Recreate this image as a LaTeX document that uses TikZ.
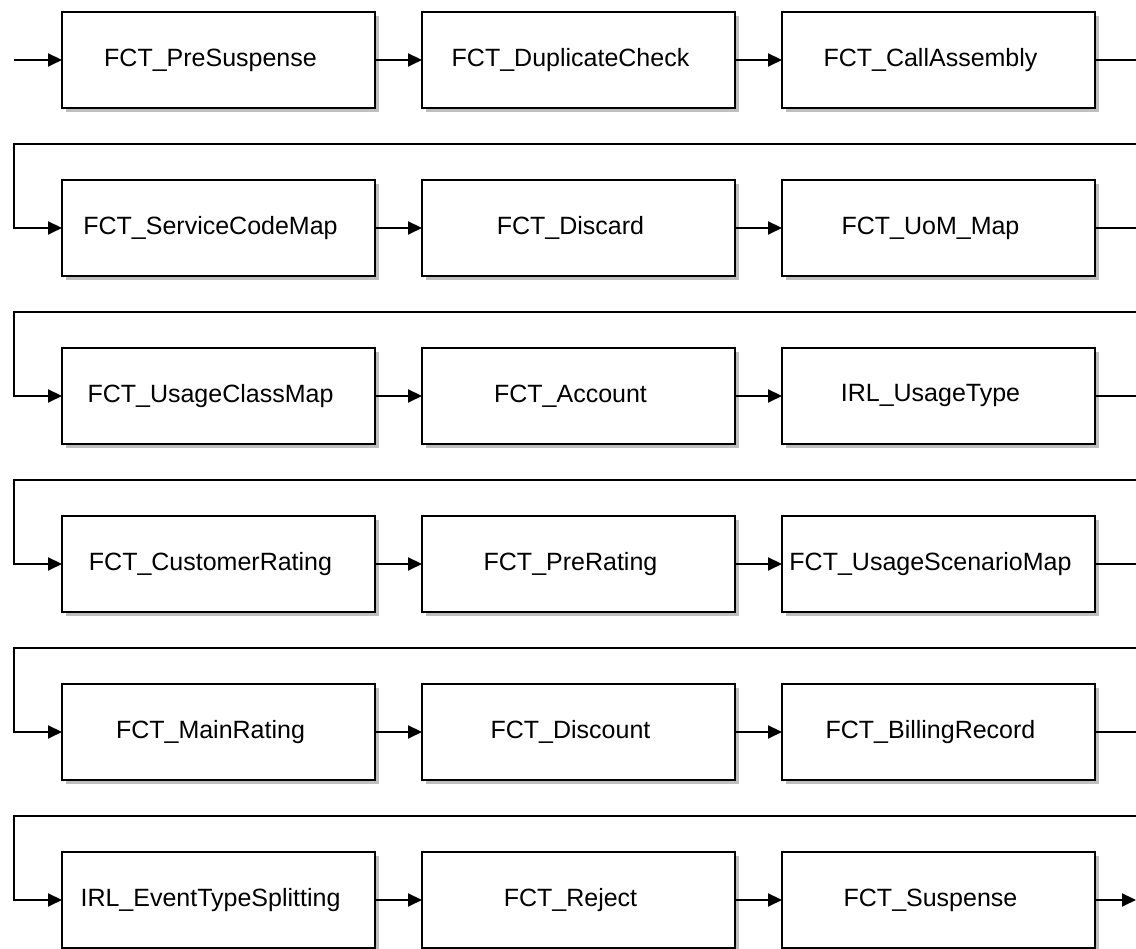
\documentclass[tikz,border=0pt]{standalone}
\usepackage{fontspec}
\setmainfont{Liberation Sans}
\usepackage{tikz}
\usetikzlibrary{positioning, arrows.meta, shadows}
\tikzset{
  stage/.style={
    draw,
    line width=2pt,
    fill=white,
    minimum width=313pt,
    minimum height=96pt,
    inner sep=0pt,
    outer sep=0pt,
    font=\fontsize{25}{30}\selectfont,
    drop shadow={shadow xshift=4pt, shadow yshift=-4pt, fill=black!25, opacity=1},
    execute at end node={\hspace{16pt}}
  },
  flow/.style={
    -{Triangle[length=14pt,width=13pt]},
    line width=2pt
  }
}

\begin{document}
\begin{tikzpicture}[x=1pt, y=1pt, node distance=72pt and 47pt]
  \path[use as bounding box] (0,0) rectangle (1136,949);
  \clip (0,0) rectangle (1136,949);

  % row 1
  \node[stage] (pre) at (218.5,889) {FCT\_PreSuspense};
  \node[stage, right=of pre] (dup) {FCT\_DuplicateCheck};
  \node[stage, right=of dup] (call) {FCT\_CallAssembly};
  % row 2
  \node[stage, below=of pre] (svc) {FCT\_ServiceCodeMap};
  \node[stage, right=of svc] (disc) {FCT\_Discard};
  \node[stage, right=of disc] (uom) {FCT\_UoM\_Map};
  % row 3
  \node[stage, below=of svc] (ucls) {FCT\_UsageClassMap};
  \node[stage, right=of ucls] (acct) {FCT\_Account};
  \node[stage, right=of acct] (utype) {IRL\_UsageType};
  % row 4
  \node[stage, below=of ucls] (cust) {FCT\_CustomerRating};
  \node[stage, right=of cust] (prer) {FCT\_PreRating};
  \node[stage, right=of prer] (uscn) {FCT\_UsageScenarioMap};
  % row 5
  \node[stage, below=of cust] (main) {FCT\_MainRating};
  \node[stage, right=of main] (dsc) {FCT\_Discount};
  \node[stage, right=of dsc] (bill) {FCT\_BillingRecord};
  % row 6
  \node[stage, below=of main] (evt) {IRL\_EventTypeSplitting};
  \node[stage, right=of evt] (rej) {FCT\_Reject};
  \node[stage, right=of rej] (susp) {FCT\_Suspense};

  \coordinate (in) at (14,889);
  \coordinate (out) at (1136,49);

  \draw[flow] (in) -- (pre);
  \draw[flow] (pre) -- (dup);
  \draw[flow] (dup) -- (call);
  \draw[flow] (call.east) -- ++(60pt,0) |- ([xshift=-48pt,yshift=36pt]svc.north west) |- (svc.west);
  \draw[flow] (svc) -- (disc);
  \draw[flow] (disc) -- (uom);
  \draw[flow] (uom.east) -- ++(60pt,0) |- ([xshift=-48pt,yshift=36pt]ucls.north west) |- (ucls.west);
  \draw[flow] (ucls) -- (acct);
  \draw[flow] (acct) -- (utype);
  \draw[flow] (utype.east) -- ++(60pt,0) |- ([xshift=-48pt,yshift=36pt]cust.north west) |- (cust.west);
  \draw[flow] (cust) -- (prer);
  \draw[flow] (prer) -- (uscn);
  \draw[flow] (uscn.east) -- ++(60pt,0) |- ([xshift=-48pt,yshift=36pt]main.north west) |- (main.west);
  \draw[flow] (main) -- (dsc);
  \draw[flow] (dsc) -- (bill);
  \draw[flow] (bill.east) -- ++(60pt,0) |- ([xshift=-48pt,yshift=36pt]evt.north west) |- (evt.west);
  \draw[flow] (evt) -- (rej);
  \draw[flow] (rej) -- (susp);
  \draw[flow] (susp) -- (out);
\end{tikzpicture}
\end{document}
